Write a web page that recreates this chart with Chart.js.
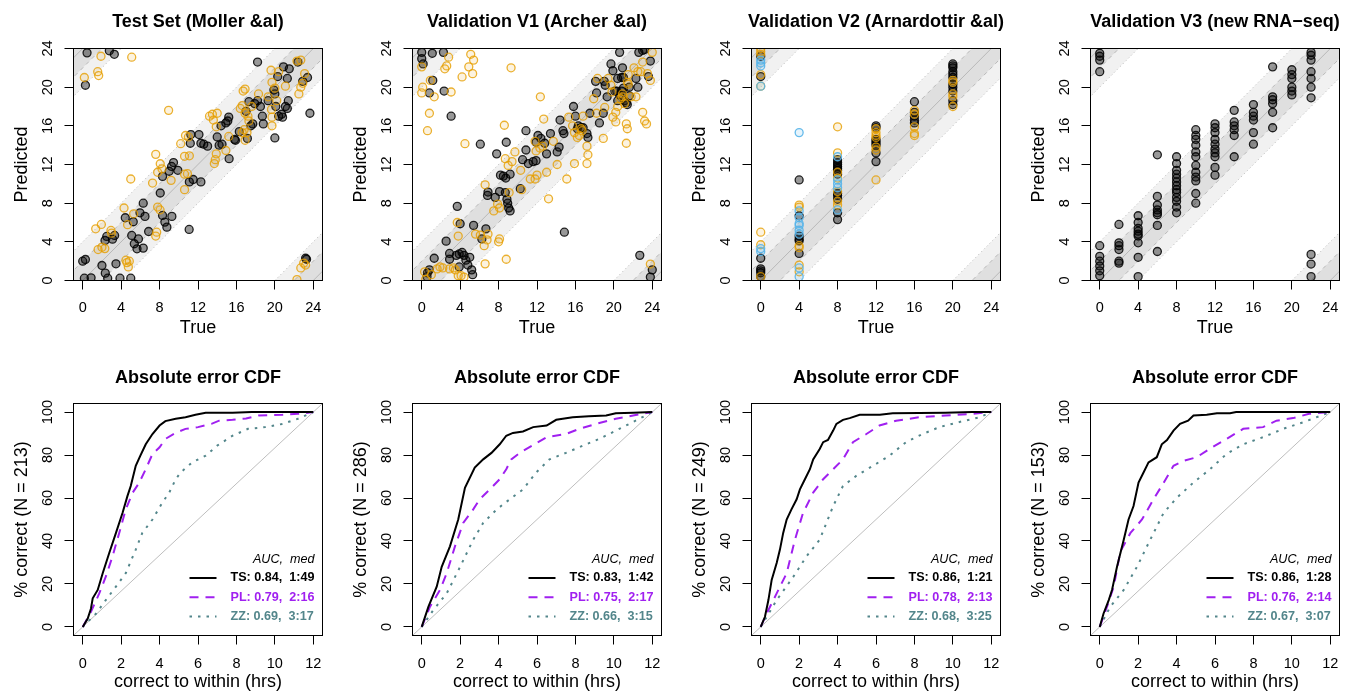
<!DOCTYPE html>
<html>
<head>
<meta charset="utf-8">
<script src="https://cdn.jsdelivr.net/npm/chart.js@4.4.1/dist/chart.umd.min.js"></script>
<style>
  body { margin: 0; background: #fff; width: 1346px; height: 694px; overflow: hidden; position: relative; }
  canvas { position: absolute; }
</style>
</head>
<body>
<canvas id="s0"></canvas><canvas id="s1"></canvas><canvas id="s2"></canvas><canvas id="s3"></canvas>
<canvas id="c0"></canvas><canvas id="c1"></canvas><canvas id="c2"></canvas><canvas id="c3"></canvas>
<script>
const FONT = '"Liberation Sans", Arial, Helvetica, sans-serif';

// ---- top row: predicted vs true time (hours) ----
const scatterTitles = ['Test Set (Moller &al)', 'Validation V1 (Archer &al)', 'Validation V2 (Arnardottir &al)', 'Validation V3 (new RNA\u2212seq)'];
const hourTicks = [0, 4, 8, 12, 16, 20, 24];
const wrapOffsets = [-24, 0, 24];

// test set (true, predicted)
const testBlack = [[0.45,23.55],[2.77,23.76],[3.29,23.4],[0.28,20.2],[0,2.0],[0.28,2.17],[0.17,0.24],[0.87,0.28],[2.0,1.55],[2.35,0.76],[2.6,0.24],[3.46,1.73],[3.88,0.24],[5.0,0.24],[2.32,4.14],[2.5,4.56],[3.1,4.28],[3.32,4.66],[4.43,6.49],[5.1,4.66],[5.37,3.8],[5.65,3.28],[5.8,4.3],[5.26,6.08],[5.96,7.0],[6.3,8.0],[6.48,6.63],[6.3,3.35],[6.86,5.07],[8.07,9.05],[8.31,6.73],[8.55,6.04],[8.76,5.52],[9.28,6.63],[8.31,10.77],[9.0,11.3],[9.25,11.8],[9.45,12.2],[9.9,11.4],[11.08,5.28],[11.1,10.2],[11.5,10.45],[12.3,10.2],[11.25,15.1],[11.2,14.2],[12.1,15.1],[12.3,14.2],[12.6,14.1],[13.0,13.9],[14.0,14.85],[14.2,14.0],[14.5,14.1],[14.4,16.0],[14.9,16.3],[15.2,16.9],[15.1,16.5],[15.24,12.6],[15.8,14.6],[15.9,14.5],[16.3,15.4],[17.14,14.7],[17.0,17.5],[17.3,18.5],[17.5,16.0],[17.7,16.2],[17.9,18.3],[18.2,18.6],[18.5,18.0],[18.7,17.0],[18.8,16.2],[18.2,22.6],[19.3,18.6],[19.9,19.7],[20.0,19.3],[20.1,18.0],[20.0,14.75],[20.3,21.1],[20.4,17.0],[20.7,17.2],[20.8,16.9],[21.1,18.0],[20.9,22.1],[21.3,20.9],[21.5,21.9],[21.4,18.6],[21.3,17.8],[22.4,22.6],[22.9,20.6],[23.4,21.0],[23.65,17.3],[23.2,2.3],[23.3,2.2]];
const testOrange = [[0.17,21.0],[1.56,21.6],[1.66,21.2],[1.9,23.2],[5.1,23.1],[8.94,17.6],[1.35,5.35],[1.94,5.8],[1.6,3.2],[2.3,3.3],[2.0,3.45],[2.94,5.18],[3.0,4.9],[4.3,7.5],[4.67,5.77],[4.5,2.1],[4.75,1.4],[4.6,1.85],[4.85,2.0],[5.0,10.5],[5.3,6.9],[7.27,10.08],[7.6,13.05],[7.8,11.2],[8.07,12.08],[8.25,11.55],[7.8,7.6],[8.05,7.3],[7.7,5.0],[7.6,4.6],[9.2,10.36],[10.2,14.15],[10.6,11.0],[11.1,12.9],[10.9,11.05],[10.6,12.85],[10.6,9.4],[10.7,15.0],[11.0,14.85],[13.2,17.0],[13.5,17.2],[14.0,17.3],[13.6,16.6],[13.9,15.9],[13.7,12.1],[13.9,13.1],[13.8,12.5],[14.9,13.45],[15.2,14.9],[16.4,17.8],[16.7,19.6],[16.9,19.8],[16.6,18.1],[16.9,17.3],[17.1,15.3],[16.8,15.6],[16.6,15.3],[16.9,14.5],[17.2,17.0],[17.3,16.5],[17.6,18.0],[18.3,19.3],[19.3,19.0],[19.6,21.75],[19.7,20.5],[19.7,16.0],[19.7,16.9],[19.65,17.7],[20.0,19.9],[20.4,21.6],[20.2,18.6],[21.1,20.1],[22.3,22.7],[22.7,22.8],[22.7,20.0],[22.9,20.4],[23.1,21.4],[22.5,19.3],[22.3,0.1],[22.7,1.3],[23.0,1.8],[23.2,1.6]];

// validation V1 (true, predicted)
const v1Black = [[0,23.6],[0,22.95],[0.15,22.4],[1.1,23.5],[1.15,20.7],[2.26,23.6],[0.8,19.4],[2.33,19.6],[3.06,17.0],[0.6,0.8],[0.55,0.4],[0.8,1.1],[1.3,2.3],[2.54,4.07],[2.9,2.8],[2.9,2.2],[3.7,7.67],[4.0,5.87],[3.9,2.75],[4.2,2.9],[4.4,2.6],[4.6,2.1],[4.8,1.6],[5.0,2.4],[5.2,1.1],[5.3,0.6],[3.9,1.4],[3.6,2.6],[5.4,5.7],[6.26,4.3],[6.1,14.1],[6.68,5.35],[6.9,9.15],[6.85,8.8],[7.65,8.6],[7.8,13.1],[8.1,9.2],[8.2,10.9],[8.5,10.8],[8.75,10.6],[8.87,8.4],[8.95,8.0],[9.05,7.5],[9.2,7.2],[8.7,9.1],[8.8,14.3],[9.2,11.0],[10.26,9.5],[10.5,12.5],[10.85,13.5],[11.1,12.1],[11.6,12.3],[11.9,12.4],[10.85,15.5],[11.9,14.3],[12.1,15.0],[12.4,14.7],[12.8,14.2],[13.0,13.1],[13.4,15.2],[14.1,13.3],[14.3,13.8],[14.4,16.6],[14.7,15.5],[14.8,15.2],[14.85,5.0],[15.8,18.0],[16.0,17.0],[16.2,15.7],[16.3,16.0],[16.6,15.8],[16.8,15.8],[17.2,15.2],[17.3,14.8],[17.5,17.3],[18.1,20.6],[18.2,19.4],[18.5,16.3],[18.9,17.3],[19.1,20.2],[19.0,20.6],[19.3,19.0],[19.7,22.4],[19.9,21.7],[20.4,20.9],[20.3,19.6],[20.6,19.2],[20.8,19.6],[20.8,21.0],[21.0,19.9],[21.1,18.6],[21.3,18.4],[21.4,18.2],[21.6,19.1],[21.6,20.0],[20.4,18.6],[20.1,19.6],[21.0,21.0],[20.9,22.0],[20.6,23.6],[22.3,20.9],[22.5,20.0],[22.6,23.6],[23.0,23.8],[23.2,23.9],[23.8,22.7],[23.6,21.1],[22.7,2.6],[24.0,1.1],[23.8,0.35]];
const v1Orange = [[0,22.1],[0.1,20.0],[0,19.4],[0.6,15.5],[0.8,17.3],[0.9,20.7],[1.3,19.0],[2.4,21.9],[2.6,22.2],[2.8,23.1],[3.06,19.5],[4.2,21.06],[4.5,14.15],[4.9,22.1],[5.1,23.4],[5.3,21.4],[5.4,22.8],[9.3,22.0],[8.6,16.06],[3.7,6.0],[3.8,4.6],[3.5,1.1],[3.3,1.3],[3.8,0.5],[4.4,0.35],[4.1,0.5],[1.6,1.2],[0.3,0.9],[1.9,1.4],[2.2,1.3],[2.9,1.2],[5.6,4.8],[6.1,4.7],[6.5,3.6],[6.8,4.2],[6.9,4.8],[6.6,1.72],[6.6,9.9],[7.5,7.2],[7.9,7.9],[8.1,7.5],[8.0,4.0],[8.1,4.3],[8.8,2.2],[8.7,12.6],[9.0,11.9],[9.1,9.1],[9.4,12.3],[9.7,13.3],[10.3,11.4],[10.4,9.4],[11.3,10.5],[11.8,10.5],[12.0,10.9],[12.35,19.0],[11.8,14.4],[11.9,13.4],[12.3,13.7],[12.6,13.9],[12.7,16.7],[13.0,11.2],[13.2,8.45],[13.7,14.4],[14.1,12.0],[15.1,10.5],[15.3,16.9],[15.7,16.0],[15.9,15.3],[16.2,14.8],[16.4,15.0],[16.7,15.5],[17.2,13.9],[17.3,13.0],[17.2,12.1],[16.8,17.0],[16.6,15.7],[15.9,12.1],[17.9,18.8],[18.2,17.3],[18.3,20.9],[18.9,14.7],[19.05,17.9],[19.4,20.9],[19.7,20.2],[19.8,19.5],[19.9,16.9],[20.2,16.4],[20.2,17.4],[20.4,18.0],[20.7,18.8],[20.9,19.0],[20.9,19.3],[21.1,18.3],[21.3,16.2],[21.3,14.2],[21.4,15.7],[21.5,21.3],[21.8,19.0],[21.5,20.3],[21.4,20.5],[22.1,22.0],[22.3,19.0],[22.5,21.6],[23.0,17.4],[23.2,16.5],[23.4,16.2],[22.8,21.6],[23.0,22.6],[23.5,21.4],[23.8,20.7],[24.0,23.6],[23.8,1.7],[0.4,0.1],[1.0,0.6]];

// validation V2: sampled every 4 h, predicted values per sampling time
const v2Times = [0, 4, 8, 12, 16, 20];
const v2Black = [[23.2,21.1,2.3,1.2,1.0,0.8,0.4],[10.4,6.7,4.3,4.1,2.8,4.6],[12.5,12.2,11.8,11.4,11.0,8.8,8.4,7.0,6.3,12.0,11.6,9.0],[16.0,14.6,14.2,14.0,13.2,12.3,15.8,14.4],[18.5,17.0,16.6,16.3,17.4],[22.4,22.0,21.6,21.3,21.0,20.3,20.0,19.6,18.6,18.2,22.2]];
const v2Orange = [[23.4,23.7,24.0,21.3,20.1,5.0,3.7,0.4],[7.8,7.6,3.6,3.4,1.6,0.9],[15.9,13.2,10.6,9.2,8.2,7.8,11.2],[15.7,15.3,15.0,13.8,13.5,10.4,14.8],[17.6,17.2,15.9,15.2,15.0],[20.7,19.3,19.0,18.0,20.5]];
const v2Blue = [[22.8,22.5,22.2,20.1,3.3,3.0],[15.3,7.2,6.5,5.9,5.7,5.2,4.8,1.3,0.4],[12.8,10.4,10.0,9.6,7.3],[],[],[]];

// validation V3: sampled every 2 h
const v3Times = [0, 2, 4, 6, 8, 10, 12, 14, 16, 18, 20, 22];
const v3Pred = [[23.5,23.2,22.8,21.6,3.6,2.5,2.0,1.5,1.0,0.5],[5.8,3.9,3.6,3.2,2.0,1.8],[6.7,6.0,5.4,5.1,4.8,4.6,3.9,2.4,0.4],[13.0,8.7,7.8,7.3,7.0,6.8,5.7,3.0],[12.8,12.1,11.4,11.0,10.6,10.2,9.8,9.4,9.1,8.6,8.2,7.6,7.0],[15.6,15.0,14.6,14.0,13.3,12.8,11.9,11.2,10.7,10.3,9.0,8.0],[16.2,15.8,15.3,14.6,14.1,13.6,13.2,12.8,11.7,10.9],[17.6,16.4,16.0,15.6,15.0,12.8],[18.2,17.4,17.0,16.6,15.3,14.1],[22.1,19.0,18.7,18.3,17.4,15.8],[21.8,21.3,20.9,20.0,19.6,19.2],[23.6,23.3,22.8,21.6,20.9,20.0,18.9,2.7,1.7,0.4]];

// ---- bottom row: absolute error CDF ----
const cdfXTicks = [0, 2, 4, 6, 8, 10, 12];
const pctTicks = [0, 20, 40, 60, 80, 100];
const sampleN = [213, 286, 249, 153];
const methods = ['TS', 'PL', 'ZZ'];
const aucTS = ['0.84', '0.83', '0.86', '0.86'];
const aucPL = ['0.79', '0.75', '0.78', '0.76'];
const aucZZ = ['0.69', '0.66', '0.68', '0.67'];
const medTS = ['1:49', '1:42', '1:21', '1:28'];
const medPL = ['2:16', '2:17', '2:13', '2:14'];
const medZZ = ['3:17', '3:15', '3:25', '3:07'];

const cdfTS = [
  [[0,0],[0.26,3.9],[0.43,8.6],[0.52,13.3],[0.78,17.2],[1.04,25],[1.38,34.4],[1.73,43.8],[2.07,53],[2.33,61],[2.5,65.6],[2.76,75],[3.0,79.7],[3.28,85],[3.63,89.8],[4.0,93.75],[4.3,95.8],[4.84,96.9],[5.35,97.6],[5.87,98.75],[6.4,99.7],[7.8,99.7],[8.8,100],[12,100]],
  [[0,0],[0.35,9.4],[0.78,18.75],[1.04,28],[1.47,37.5],[1.9,50],[2.25,64.8],[2.76,74.2],[3.2,78],[3.63,81],[4.06,85],[4.4,89],[4.75,90.3],[5.27,91],[5.8,93],[6.5,93.75],[7.0,96.4],[7.86,97.6],[8.7,98.1],[9.6,98.4],[10.1,99.5],[11,99.7],[12,100]],
  [[0,0],[0.22,4.7],[0.4,12.5],[0.57,21.9],[0.83,29.7],[1.0,36],[1.17,43.75],[1.35,50],[1.6,54.7],[1.87,59.4],[2.04,64],[2.3,68.75],[2.56,73.4],[2.73,78],[3.07,82.8],[3.25,86],[3.5,87],[3.77,91.4],[3.94,94.5],[4.28,96.4],[4.63,97.2],[5.15,98.75],[6.2,98.75],[6.87,99.5],[9.6,99.7],[11,100],[12,100]],
  [[0,0],[0.2,6.25],[0.47,12.5],[0.64,17.2],[0.9,28],[1.25,40.6],[1.5,50],[1.76,56.25],[2.02,67.2],[2.28,71.9],[2.54,76.6],[2.97,79],[3.23,85],[3.5,87],[3.84,91.4],[4.18,94.5],[4.6,96],[4.88,98.4],[5.57,98.75],[6.1,99.5],[6.78,99.5],[7.1,100],[12,100]]
];
const cdfPL = [
  [[0,0],[0.43,7],[0.86,15.6],[1.2,23.4],[1.55,32.8],[1.9,43.75],[2.24,54.7],[2.6,62.5],[2.93,67],[3.28,73.4],[3.63,80.5],[4.0,83.6],[4.3,87.5],[4.84,90.3],[5.35,92.2],[6.0,93],[6.7,94.5],[7.1,96],[7.8,96.4],[8.5,97],[9.15,98.4],[10.4,98.75],[11.2,99.2],[12,100]],
  [[0,0],[0.43,9.4],[0.95,17.2],[1.3,25],[1.73,37.5],[2.16,48.4],[2.68,54.7],[3.02,59.4],[3.54,64],[4.06,68.75],[4.4,73.4],[4.66,78],[5.1,81],[5.8,84.7],[6.5,88.3],[7.5,89.8],[8.2,92.2],[9.07,94.5],[10.1,96.9],[11,98.4],[12,100]],
  [[0,0],[0.31,6.25],[0.83,15.6],[1.35,25],[1.78,40.6],[2.2,53],[2.73,62.5],[3.25,68.75],[3.77,73.4],[4.28,78],[4.8,86],[5.5,89.8],[6.18,93.75],[7.05,96],[8.25,97.6],[9.63,98.4],[11,99.2],[12,100]],
  [[0,0],[0.38,9.4],[0.73,18.75],[1.07,35],[1.6,43.75],[2.2,50],[2.8,59.4],[3.32,67],[3.84,75],[4.36,77.3],[5.05,79],[5.74,83],[6.6,87.5],[7.47,92.2],[8.5,93],[9.2,96],[10.06,97.2],[10.9,99.2],[12,100]]
];
const cdfZZ = [
  [[0,0],[0.7,6.25],[1.2,12.5],[1.73,18.75],[2.24,25],[2.76,36],[3.1,43.75],[3.63,50],[4.14,57.8],[4.5,62.5],[4.84,68.75],[5.1,71.9],[5.7,76.6],[6.4,79.7],[7.0,84.4],[7.8,89],[8.6,92.2],[9.5,93],[10.4,94.5],[11.2,96.9],[12,100]],
  [[0,0],[0.6,7.8],[1.3,15.6],[2,28],[2.68,40.6],[3.2,48.4],[3.9,54.7],[4.58,59.4],[5.27,64],[5.96,71.9],[6.65,78],[7.5,81],[8.4,84.4],[9.24,87.5],[9.93,90.6],[10.8,94.5],[12,100]],
  [[0,0],[0.83,12.5],[1.7,23.4],[2.38,32.8],[3.07,40.6],[3.77,56.25],[4.28,65.6],[4.97,70.3],[5.84,75],[6.7,79.7],[7.56,86],[8.43,89.8],[9.3,93],[10.3,95.3],[11.4,97.6],[12,100]],
  [[0,0],[0.55,9.4],[1.25,17.2],[1.94,28],[2.63,40.6],[3.32,53],[4.0,60],[4.88,67.2],[5.74,73.4],[6.6,80.5],[7.47,85],[8.5,88.3],[9.55,92.2],[10.6,95.3],[12,100]]
];

// ---- layout ----
const canvasLeft = [0, 339, 678, 1017];
const W = 340, H = 347;
const BOX_L = 73.5, BOX_W = 249;
const Y_AXIS_W = 62.3;

const GUIDE = '#b8b8b8';
const BAND_DARK = '#dfdfdf';
const BAND_LIGHT = '#f1f1f1';

const toXY = arr => arr.map(([x, y]) => ({ x, y }));
const byTime = (times, cols) => cols.flatMap((ys, i) => ys.map(y => ({ x: times[i], y })));

function axisX(min, max, ticks, title, hx, pad) {
  return {
    type: 'linear', min, max,
    afterBuildTicks: s => { s.ticks = ticks.map(v => ({ value: v })); },
    afterFit: s => { s.height = hx; },
    ticks: { font: { family: FONT, size: 14.5 }, color: '#000', padding: pad, maxRotation: 0, autoSkip: false, callback: v => String(v) },
    grid: { drawOnChartArea: false, tickLength: 9, color: '#000', lineWidth: 1 },
    border: { color: '#000', width: 1 },
    title: { display: true, text: title, font: { family: FONT, size: 18 }, color: '#000', padding: 0 }
  };
}

function axisY(min, max, ticks, title, pad) {
  return {
    type: 'linear', min, max,
    afterBuildTicks: s => { s.ticks = ticks.map(v => ({ value: v })); },
    afterFit: s => { s.width = Y_AXIS_W; },
    ticks: { font: { family: FONT, size: 14.5 }, color: '#000', padding: pad, minRotation: 90, maxRotation: 90, crossAlign: 'center', autoSkip: false, callback: v => String(v) },
    grid: { drawOnChartArea: false, tickLength: 9, color: '#000', lineWidth: 1 },
    border: { color: '#000', width: 1 },
    title: { display: true, text: title, font: { family: FONT, size: 18 }, color: '#000', padding: 0 }
  };
}

function framePlugin(text, titleY) {
  return {
    id: 'frame',
    afterDraw(chart) {
      const { ctx, chartArea: a } = chart;
      ctx.save();
      ctx.strokeStyle = '#000';
      ctx.lineWidth = 1;
      ctx.strokeRect(a.left, a.top, a.right - a.left, a.bottom - a.top);
      ctx.font = `bold 18px ${FONT}`;
      ctx.fillStyle = '#000';
      ctx.textAlign = 'center';
      ctx.textBaseline = 'middle';
      ctx.fillText(text, (a.left + a.right) / 2, titleY);
      ctx.restore();
    }
  };
}

// diagonal agreement bands (|error| < 2 h dark, < 4 h light), wrapped around 24 h
function guideSets() {
  const sets = [];
  const seg = (d, o) => [{ x: -2, y: -2 + o + d }, { x: 26, y: 26 + o + d }];
  const base = { type: 'line', borderColor: GUIDE, borderWidth: 1, pointRadius: 0, pointHitRadius: 0, tension: 0 };
  wrapOffsets.forEach(o => {
    sets.push({ ...base, data: seg(-4, o), borderDash: [1, 3], fill: false, order: 40 });
    sets.push({ ...base, data: seg(4, o), borderDash: [1, 3], fill: '-1', backgroundColor: BAND_LIGHT, order: 40 });
    sets.push({ ...base, data: seg(-2, o), borderDash: [4, 4], fill: false, order: 30 });
    sets.push({ ...base, data: seg(2, o), borderDash: [4, 4], fill: '-1', backgroundColor: BAND_DARK, order: 30 });
    sets.push({ ...base, data: seg(0, o), fill: false, order: 20 });
  });
  return sets;
}

function pointSet(data, fill, stroke, order) {
  return {
    type: 'line', data, showLine: false, order, clip: 0,
    pointRadius: 4, pointBorderWidth: 1.3, pointHoverRadius: 4,
    pointBackgroundColor: fill, pointBorderColor: stroke,
    backgroundColor: fill, borderColor: stroke
  };
}

const BLACK_PT = ['rgba(0,0,0,0.4)', 'rgba(0,0,0,0.85)'];
const ORANGE_PT = ['rgba(230,159,0,0.12)', 'rgba(230,159,0,0.8)'];
const BLUE_PT = ['rgba(86,180,233,0.15)', 'rgba(86,180,233,0.9)'];

const scatterPoints = [
  [pointSet(toXY(testOrange), ...ORANGE_PT, 1), pointSet(toXY(testBlack), ...BLACK_PT, 2)],
  [pointSet(toXY(v1Orange), ...ORANGE_PT, 1), pointSet(toXY(v1Black), ...BLACK_PT, 2)],
  [pointSet(byTime(v2Times, v2Blue), ...BLUE_PT, 1), pointSet(byTime(v2Times, v2Orange), ...ORANGE_PT, 2), pointSet(byTime(v2Times, v2Black), ...BLACK_PT, 3)],
  [pointSet(byTime(v3Times, v3Pred), ...BLACK_PT, 1)]
];

function place(id, col, row) {
  const el = document.getElementById(id);
  el.width = W; el.height = H;
  el.style.left = canvasLeft[col] + 'px';
  el.style.top = (row * H) + 'px';
  return el;
}

const common = {
  responsive: false,
  animation: false,
  events: [],
  plugins: { legend: { display: false }, tooltip: { enabled: false } }
};

scatterTitles.forEach((title, c) => {
  const el = place('s' + c, c, 0);
  const top = 48.5, bottom = 280.5, hx = 58.8;
  new Chart(el, {
    type: 'line',
    data: { datasets: [...scatterPoints[c], ...guideSets()] },
    options: {
      ...common,
      layout: { autoPadding: false, padding: { left: BOX_L - Y_AXIS_W, right: W - BOX_L - BOX_W, top, bottom: H - bottom - hx } },
      scales: {
        x: axisX(-0.96, 24.96, hourTicks, 'True', hx, 9.5),
        y: axisY(0, 24, hourTicks, 'Predicted', 8.5)
      }
    },
    plugins: [framePlugin(title, 21.7)]
  });
});

const methodColors = ['#000000', '#A020F0', '#53868B'];
const methodDash = [[], [9, 7], [2.5, 6]];

function legendPlugin(c) {
  const labels = [
    `TS: ${aucTS[c]},  ${medTS[c]}`,
    `PL: ${aucPL[c]},  ${medPL[c]}`,
    `ZZ: ${aucZZ[c]},  ${medZZ[c]}`
  ];
  return {
    id: 'cdfLegend',
    afterDraw(chart) {
      const { ctx, chartArea: a } = chart;
      ctx.save();
      ctx.fillStyle = '#000';
      ctx.textBaseline = 'middle';
      ctx.textAlign = 'right';
      ctx.font = `italic 12.6px ${FONT}`;
      ctx.fillText('AUC,  med', a.right - 8, a.bottom - 76.5);
      labels.forEach((lab, i) => {
        const y = a.bottom - 57.5 + i * 19.3;
        ctx.strokeStyle = methodColors[i];
        ctx.lineWidth = 2;
        ctx.setLineDash(methodDash[i]);
        ctx.beginPath();
        ctx.moveTo(a.right - 133, y);
        ctx.lineTo(a.right - 106, y);
        ctx.stroke();
        ctx.setLineDash([]);
        ctx.fillStyle = methodColors[i];
        ctx.textAlign = 'left';
        ctx.font = `bold 12.6px ${FONT}`;
        ctx.fillText(lab, a.right - 92, y);
      });
      ctx.restore();
    }
  };
}

sampleN.forEach((n, c) => {
  const el = place('c' + c, c, 1);
  const top = 56.5, bottom = 288.5, hx = 57.5;
  const curves = [cdfTS[c], cdfPL[c], cdfZZ[c]];
  const datasets = curves.map((pts, i) => ({
    type: 'line', label: methods[i], data: toXY(pts),
    borderColor: methodColors[i], borderWidth: 2, borderDash: methodDash[i],
    pointRadius: 0, tension: 0, fill: false, order: i + 1
  }));
  datasets.push({
    type: 'line', data: [{ x: -1, y: -100 / 12 }, { x: 13, y: 1300 / 12 }],
    borderColor: '#bebebe', borderWidth: 1, pointRadius: 0, fill: false, order: 10
  });
  new Chart(el, {
    type: 'line',
    data: { datasets },
    options: {
      ...common,
      layout: { autoPadding: false, padding: { left: BOX_L - Y_AXIS_W, right: W - BOX_L - BOX_W, top, bottom: H - bottom - hx } },
      scales: {
        x: axisX(-0.48, 12.48, cdfXTicks, 'correct to within (hrs)', hx, 10.5),
        y: axisY(-4, 104, pctTicks, `% correct (N = ${n})`, 4.5)
      }
    },
    plugins: [framePlugin('Absolute error CDF', 31.3), legendPlugin(c)]
  });
});
</script>
</body>
</html>
